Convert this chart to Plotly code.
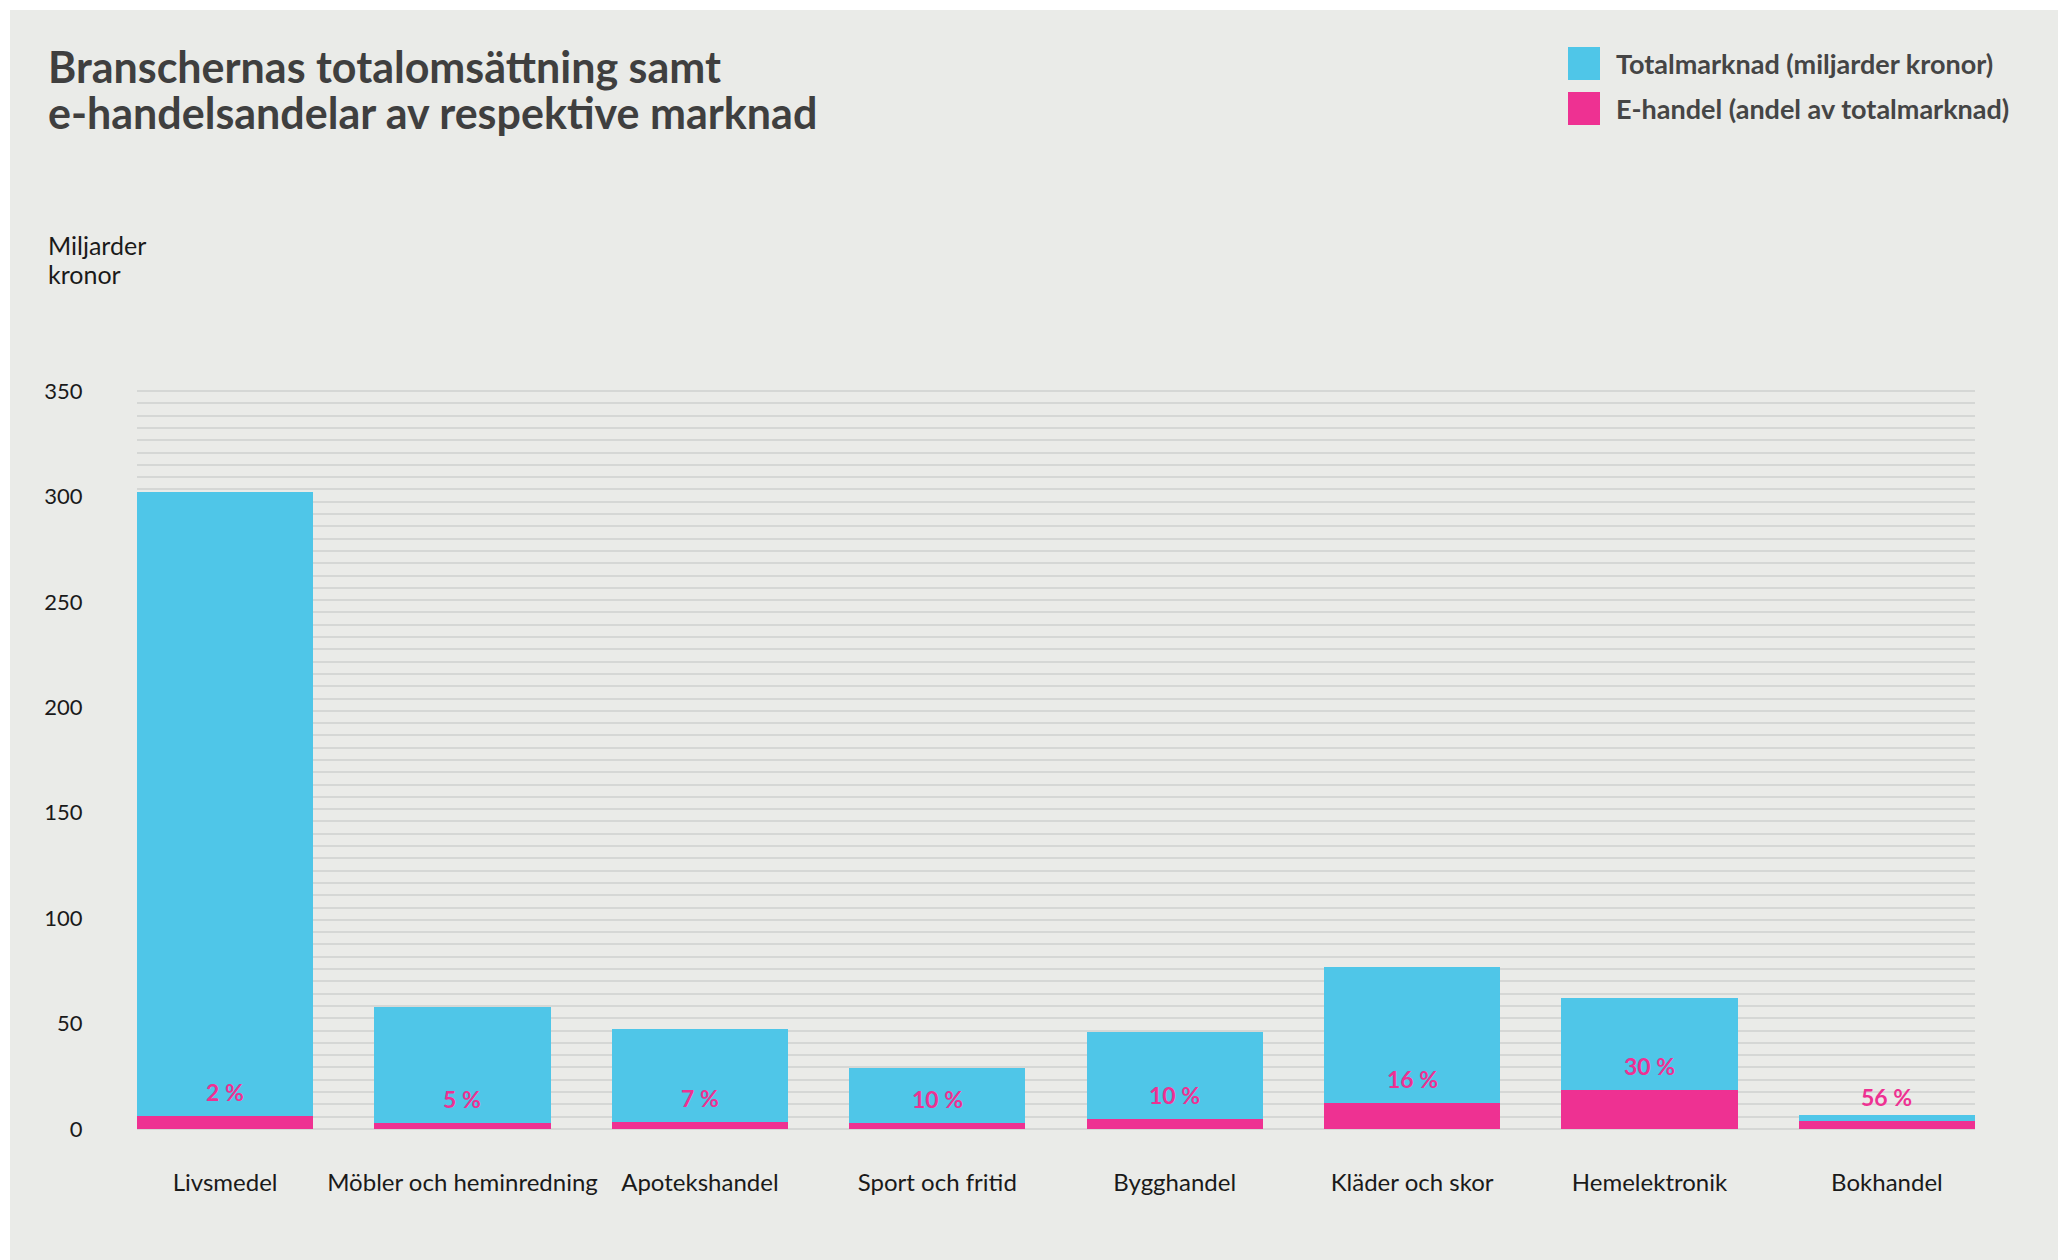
import plotly.graph_objects as go

# Branscher, totalmarknad (miljarder kronor) och e-handelns andel (procent)
categories = ["Livsmedel", "Möbler och heminredning", "Apotekshandel", "Sport och fritid",
              "Bygghandel", "Kläder och skor", "Hemelektronik", "Bokhandel"]
total_market = [302, 58, 47.5, 29, 46, 77, 62, 6.4]
ecommerce_share = [2, 5, 7, 10, 10, 16, 30, 56]
y_ticks = [0, 50, 100, 150, 200, 250, 300, 350]

# E-handelns del av marknaden i miljarder kronor
ecommerce_value = [t * s / 100 for t, s in zip(total_market, ecommerce_share)]
share_labels = [f"{s} %" for s in ecommerce_share]

W, H = 2058, 1260
ML, MR, MT, MB = 137, 83, 389, 129
PW, PH = W - ML - MR, H - MT - MB
Y_RANGE = [-1, 351]

BG = "#EAEBE8"
BLUE = "#4FC6E8"
PINK = "#EE3192"
GRID = "#D5D7D5"
FONT = "Lato, sans-serif"


def px_x(px):
    return (px - ML) / PW


def px_y(py):
    return (H - MB - py) / PH


fig = go.Figure()

fig.add_trace(go.Bar(
    x=categories, y=total_market, name="Totalmarknad (miljarder kronor)",
    marker=dict(color=BLUE, line=dict(width=0)), width=0.742,
    showlegend=False, hoverinfo="x+y",
))
fig.add_trace(go.Bar(
    x=categories, y=ecommerce_value, name="E-handel (andel av totalmarknad)",
    marker=dict(color=PINK, line=dict(width=0)), width=0.742,
    showlegend=False, hoverinfo="x+y",
))
# Carrier for the fine ruled grid axis
fig.add_trace(go.Scatter(
    x=categories, y=ecommerce_value, yaxis="y2", mode="markers",
    marker=dict(opacity=0), showlegend=False, hoverinfo="skip",
))

# Share labels above the e-commerce segment
for cat, val, lab in zip(categories, ecommerce_value, share_labels):
    fig.add_annotation(
        x=cat, y=val, xref="x", yref="y", text=lab, showarrow=False,
        yanchor="middle", yshift=24,
        font=dict(family=FONT, size=23, color=PINK, weight=700),
    )

# Title, two lines set tight
title_lines = [("Branschernas totalomsättning samt", 66),
               ("e-handelsandelar av respektive marknad", 113)]
for text, yc in title_lines:
    fig.add_annotation(
        x=px_x(46), y=px_y(yc), xref="paper", yref="paper",
        xanchor="left", yanchor="middle", showarrow=False, text=text,
        font=dict(family=FONT, size=43, color="#3F3F3F", weight=700),
    )

# Axis unit note
for text, yc in [("Miljarder", 245), ("kronor", 274)]:
    fig.add_annotation(
        x=px_x(46), y=px_y(yc), xref="paper", yref="paper",
        xanchor="left", yanchor="middle", showarrow=False, text=text,
        font=dict(family=FONT, size=25, color="#1A1A1A"),
    )

# Legend: coloured squares with bold labels
legend_items = [("Totalmarknad (miljarder kronor)", BLUE, 47),
                ("E-handel (andel av totalmarknad)", PINK, 92)]
for label, color, top in legend_items:
    fig.add_shape(type="rect", xref="paper", yref="paper",
                  x0=px_x(1568), x1=px_x(1600), y0=px_y(top + 33), y1=px_y(top),
                  fillcolor=color, line=dict(width=0))
    fig.add_annotation(
        x=px_x(1614), y=px_y(top + 16.5), xref="paper", yref="paper",
        xanchor="left", yanchor="middle", showarrow=False, text=label,
        font=dict(family=FONT, size=27, color="#454545", weight=700),
    )

# White frame along the top and left edges
fig.add_shape(type="rect", xref="paper", yref="paper", layer="above",
              x0=px_x(0), x1=px_x(W), y0=px_y(10), y1=px_y(0),
              fillcolor="white", line=dict(width=0))
fig.add_shape(type="rect", xref="paper", yref="paper", layer="above",
              x0=px_x(0), x1=px_x(10), y0=px_y(H), y1=px_y(0),
              fillcolor="white", line=dict(width=0))

fig.update_layout(
    width=W, height=H,
    margin=dict(l=ML, r=MR, t=MT, b=MB, pad=0),
    paper_bgcolor=BG, plot_bgcolor=BG,
    barmode="overlay",
    bargap=0,
    xaxis=dict(
        type="category", range=[-0.371, 7.371],
        showgrid=False, zeroline=False, showline=False,
        ticks="outside", ticklen=30, tickcolor="rgba(0,0,0,0)",
        tickfont=dict(family=FONT, size=24, color="#1A1A1A"),
    ),
    yaxis=dict(
        range=Y_RANGE, tickmode="array", tickvals=y_ticks,
        showgrid=False, zeroline=False, showline=False,
        ticks="outside", ticklen=49, tickcolor="rgba(0,0,0,0)",
        tickfont=dict(family=FONT, size=22, color="#1A1A1A"),
    ),
    yaxis2=dict(
        overlaying="y", side="left", range=Y_RANGE,
        tickmode="linear", tick0=0, dtick=350 / 60,
        showgrid=True, gridcolor=GRID, gridwidth=2,
        showticklabels=False, zeroline=False, showline=False, ticks="",
    ),
)

fig.write_html("out.html")
